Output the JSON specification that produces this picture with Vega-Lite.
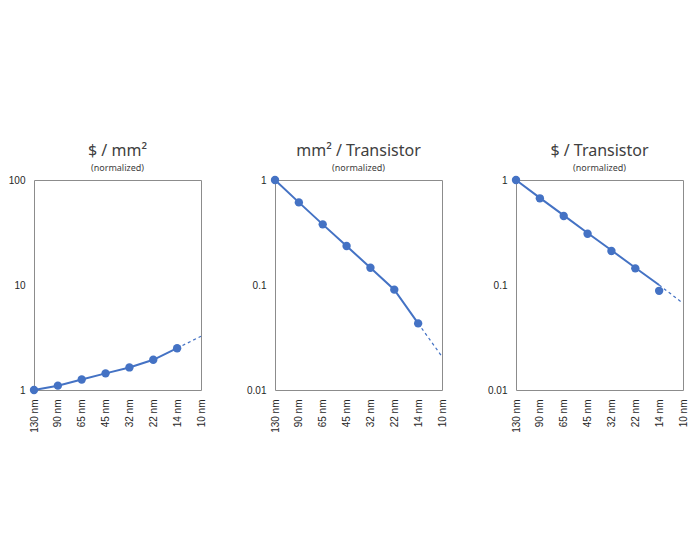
{
  "$schema": "https://vega.github.io/schema/vega-lite/v6.json",
  "padding": {"left": 7, "top": 142, "right": 5, "bottom": 5},
  "background": "white",
  "config": {
    "view": {"stroke": "#8c8c8c", "strokeWidth": 1},
    "font": "Liberation Sans",
    "axis": {
      "ticks": false,
      "domain": false,
      "grid": false,
      "labelFont": "Liberation Sans",
      "labelFontSize": 10,
      "labelColor": "#262626",
      "labelPadding": 9,
      "title": null
    },
    "title": {
      "font": "Noto Sans",
      "fontSize": 16,
      "fontWeight": "normal",
      "color": "#404040",
      "subtitleFont": "Noto Sans",
      "subtitleFontSize": 9,
      "subtitleColor": "#404040",
      "subtitlePadding": 5,
      "anchor": "middle",
      "frame": "group",
      "offset": 2
    },
    "concat": {"spacing": 39}
  },
  "datasets": {
    "nodes": [
      {"metric": "cost_area", "node": "130 nm", "value": 1.0, "part": "line"},
      {"metric": "cost_area", "node": "90 nm", "value": 1.1, "part": "line"},
      {"metric": "cost_area", "node": "65 nm", "value": 1.26, "part": "line"},
      {"metric": "cost_area", "node": "45 nm", "value": 1.44, "part": "line"},
      {"metric": "cost_area", "node": "32 nm", "value": 1.64, "part": "line"},
      {"metric": "cost_area", "node": "22 nm", "value": 1.94, "part": "line"},
      {"metric": "cost_area", "node": "14 nm", "value": 2.5, "part": "line"},
      {"metric": "cost_area", "node": "14 nm", "value": 2.5, "part": "dash"},
      {"metric": "cost_area", "node": "10 nm", "value": 3.25, "part": "dash"},
      {"metric": "cost_area", "node": "130 nm", "value": 1.0, "part": "dot"},
      {"metric": "cost_area", "node": "90 nm", "value": 1.1, "part": "dot"},
      {"metric": "cost_area", "node": "65 nm", "value": 1.26, "part": "dot"},
      {"metric": "cost_area", "node": "45 nm", "value": 1.44, "part": "dot"},
      {"metric": "cost_area", "node": "32 nm", "value": 1.64, "part": "dot"},
      {"metric": "cost_area", "node": "22 nm", "value": 1.94, "part": "dot"},
      {"metric": "cost_area", "node": "14 nm", "value": 2.5, "part": "dot"},

      {"metric": "area_tr", "node": "130 nm", "value": 1.0, "part": "line"},
      {"metric": "area_tr", "node": "90 nm", "value": 0.612, "part": "line"},
      {"metric": "area_tr", "node": "65 nm", "value": 0.378, "part": "line"},
      {"metric": "area_tr", "node": "45 nm", "value": 0.235, "part": "line"},
      {"metric": "area_tr", "node": "32 nm", "value": 0.146, "part": "line"},
      {"metric": "area_tr", "node": "22 nm", "value": 0.0903, "part": "line"},
      {"metric": "area_tr", "node": "14 nm", "value": 0.0431, "part": "line"},
      {"metric": "area_tr", "node": "14 nm", "value": 0.0431, "part": "dash"},
      {"metric": "area_tr", "node": "10 nm", "value": 0.0208, "part": "dash"},
      {"metric": "area_tr", "node": "130 nm", "value": 1.0, "part": "dot"},
      {"metric": "area_tr", "node": "90 nm", "value": 0.612, "part": "dot"},
      {"metric": "area_tr", "node": "65 nm", "value": 0.378, "part": "dot"},
      {"metric": "area_tr", "node": "45 nm", "value": 0.235, "part": "dot"},
      {"metric": "area_tr", "node": "32 nm", "value": 0.146, "part": "dot"},
      {"metric": "area_tr", "node": "22 nm", "value": 0.0903, "part": "dot"},
      {"metric": "area_tr", "node": "14 nm", "value": 0.0431, "part": "dot"},

      {"metric": "cost_tr", "node": "130 nm", "value": 1.0, "part": "line"},
      {"metric": "cost_tr", "node": "90 nm", "value": 0.675, "part": "line"},
      {"metric": "cost_tr", "node": "65 nm", "value": 0.46, "part": "line"},
      {"metric": "cost_tr", "node": "45 nm", "value": 0.313, "part": "line"},
      {"metric": "cost_tr", "node": "32 nm", "value": 0.214, "part": "line"},
      {"metric": "cost_tr", "node": "22 nm", "value": 0.146, "part": "line"},
      {"metric": "cost_tr", "node": "14 nm", "value": 0.1, "part": "line"},
      {"metric": "cost_tr", "node": "14 nm", "value": 0.1, "part": "dash"},
      {"metric": "cost_tr", "node": "10 nm", "value": 0.067, "part": "dash"},
      {"metric": "cost_tr", "node": "130 nm", "value": 1.0, "part": "dot"},
      {"metric": "cost_tr", "node": "90 nm", "value": 0.669, "part": "dot"},
      {"metric": "cost_tr", "node": "65 nm", "value": 0.454, "part": "dot"},
      {"metric": "cost_tr", "node": "45 nm", "value": 0.308, "part": "dot"},
      {"metric": "cost_tr", "node": "32 nm", "value": 0.211, "part": "dot"},
      {"metric": "cost_tr", "node": "22 nm", "value": 0.144, "part": "dot"},
      {"metric": "cost_tr", "node": "14 nm", "value": 0.088, "part": "dot"}
    ]
  },
  "data": {"name": "nodes"},
  "hconcat": [
    {
      "title": {"text": "$ / mm²", "subtitle": "(normalized)"},
      "width": 167,
      "height": 210,
      "transform": [{"filter": "datum.metric === 'cost_area'"}],
      "encoding": {
        "x": {
          "field": "node", "type": "ordinal",
          "scale": {"type": "point", "padding": 0, "domain": ["130 nm", "90 nm", "65 nm", "45 nm", "32 nm", "22 nm", "14 nm", "10 nm"]},
          "axis": {"labelAngle": -90}
        },
        "y": {
          "field": "value", "type": "quantitative",
          "scale": {"type": "log", "domain": [1, 100]},
          "axis": {"values": [1, 10, 100], "format": "~g"}
        }
      },
      "layer": [
        {"transform": [{"filter": "datum.part === 'line'"}], "mark": {"type": "line", "color": "#4472C4", "strokeWidth": 2}},
        {"transform": [{"filter": "datum.part === 'dash'"}], "mark": {"type": "line", "color": "#4472C4", "strokeWidth": 1.25, "strokeDash": [3, 3]}},
        {"transform": [{"filter": "datum.part === 'dot'"}], "mark": {"type": "point", "filled": true, "opacity": 1, "color": "#4472C4", "size": 70}}
      ]
    },
    {
      "title": {"text": "mm² / Transistor", "subtitle": "(normalized)"},
      "width": 167,
      "height": 210,
      "transform": [{"filter": "datum.metric === 'area_tr'"}],
      "encoding": {
        "x": {
          "field": "node", "type": "ordinal",
          "scale": {"type": "point", "padding": 0, "domain": ["130 nm", "90 nm", "65 nm", "45 nm", "32 nm", "22 nm", "14 nm", "10 nm"]},
          "axis": {"labelAngle": -90}
        },
        "y": {
          "field": "value", "type": "quantitative",
          "scale": {"type": "log", "domain": [0.01, 1]},
          "axis": {"values": [0.01, 0.1, 1], "format": "~g"}
        }
      },
      "layer": [
        {"transform": [{"filter": "datum.part === 'line'"}], "mark": {"type": "line", "color": "#4472C4", "strokeWidth": 2}},
        {"transform": [{"filter": "datum.part === 'dash'"}], "mark": {"type": "line", "color": "#4472C4", "strokeWidth": 1.25, "strokeDash": [3, 3]}},
        {"transform": [{"filter": "datum.part === 'dot'"}], "mark": {"type": "point", "filled": true, "opacity": 1, "color": "#4472C4", "size": 70}}
      ]
    },
    {
      "title": {"text": "$ / Transistor", "subtitle": "(normalized)"},
      "width": 167,
      "height": 210,
      "transform": [{"filter": "datum.metric === 'cost_tr'"}],
      "encoding": {
        "x": {
          "field": "node", "type": "ordinal",
          "scale": {"type": "point", "padding": 0, "domain": ["130 nm", "90 nm", "65 nm", "45 nm", "32 nm", "22 nm", "14 nm", "10 nm"]},
          "axis": {"labelAngle": -90}
        },
        "y": {
          "field": "value", "type": "quantitative",
          "scale": {"type": "log", "domain": [0.01, 1]},
          "axis": {"values": [0.01, 0.1, 1], "format": "~g"}
        }
      },
      "layer": [
        {"transform": [{"filter": "datum.part === 'line'"}], "mark": {"type": "line", "color": "#4472C4", "strokeWidth": 2}},
        {"transform": [{"filter": "datum.part === 'dash'"}], "mark": {"type": "line", "color": "#4472C4", "strokeWidth": 1.25, "strokeDash": [3, 3]}},
        {"transform": [{"filter": "datum.part === 'dot'"}], "mark": {"type": "point", "filled": true, "opacity": 1, "color": "#4472C4", "size": 70}}
      ]
    }
  ]
}
